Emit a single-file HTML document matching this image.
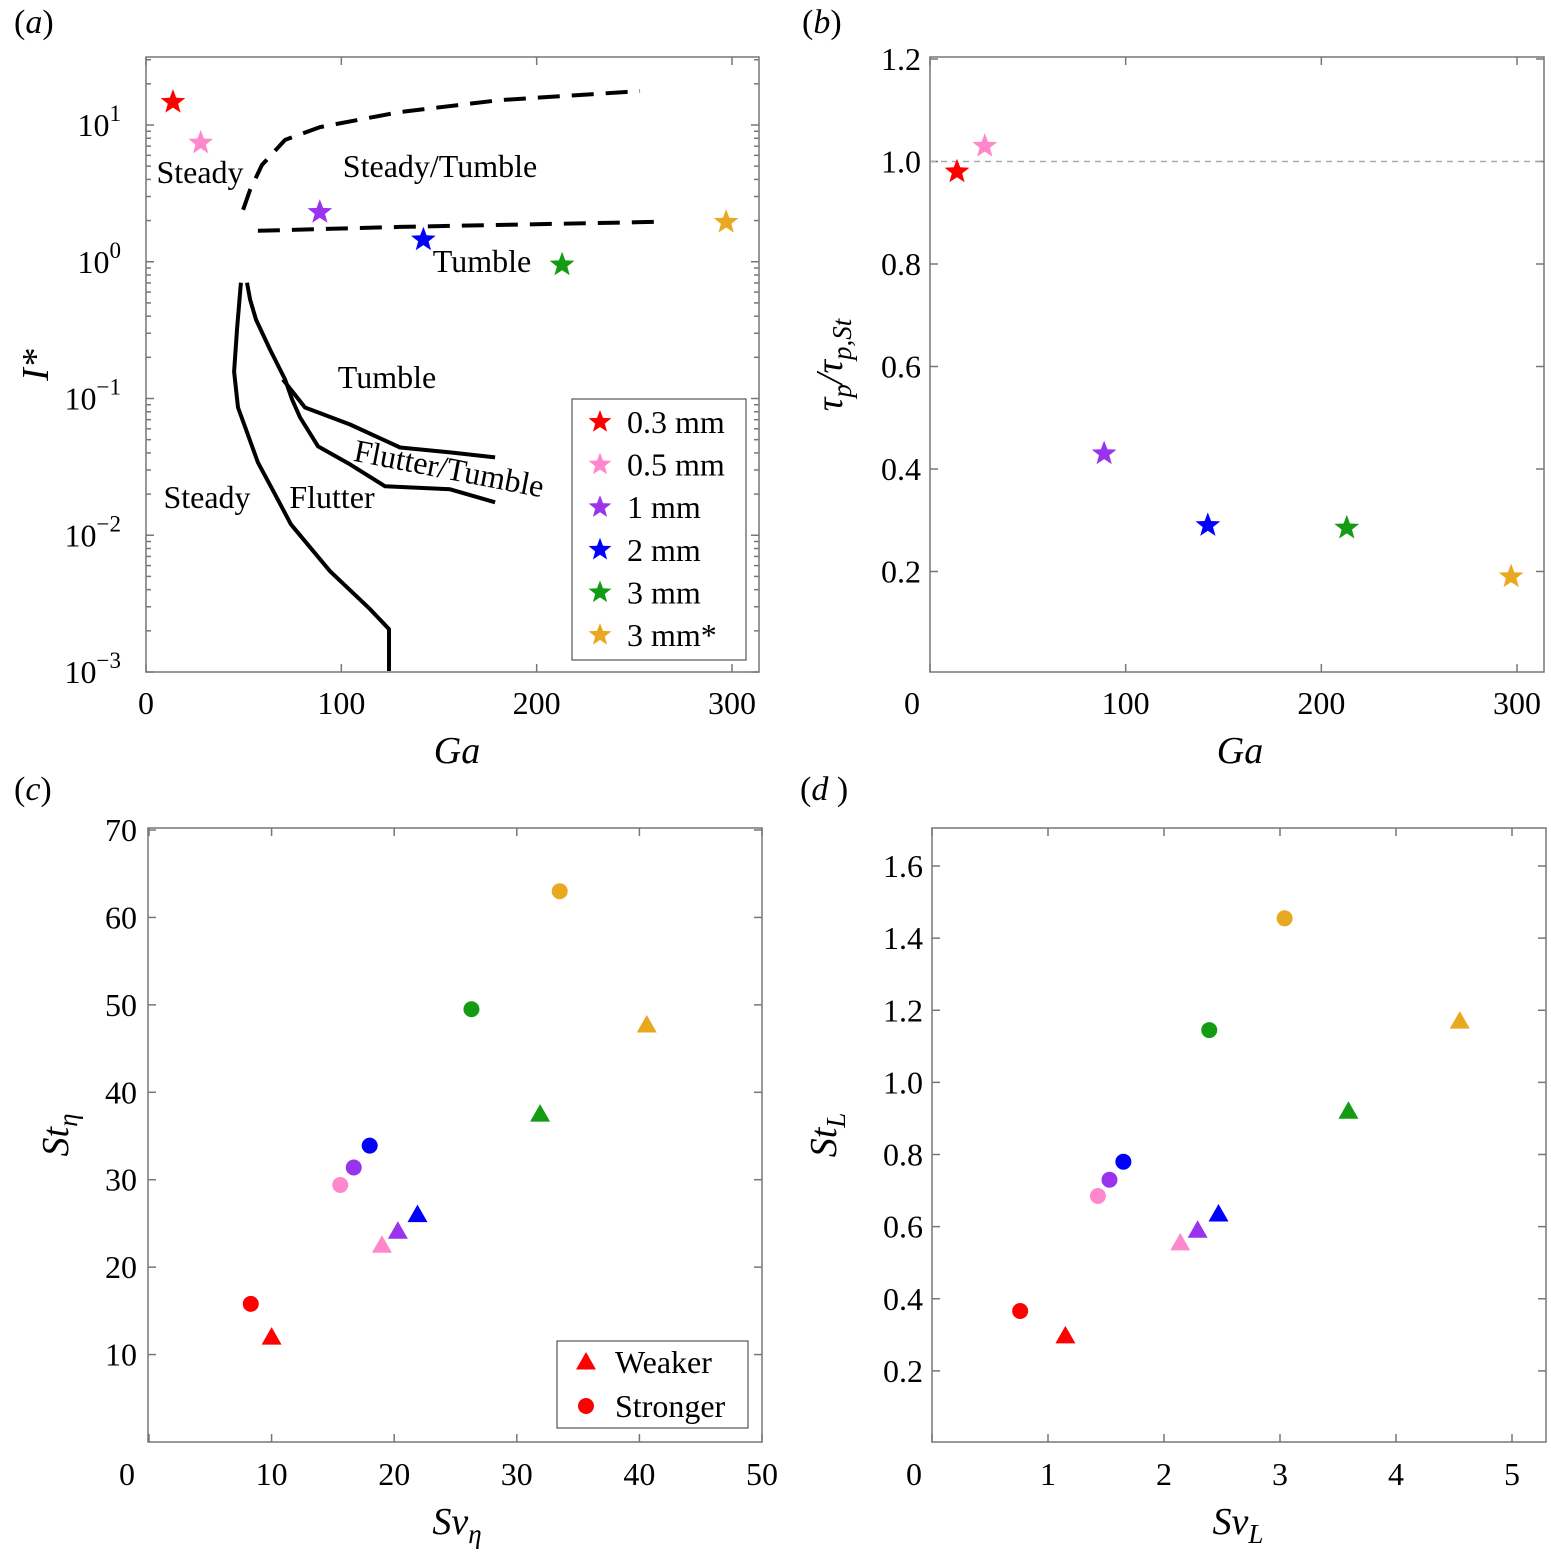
<!DOCTYPE html>
<html><head><meta charset="utf-8"><style>
body{margin:0;background:#fff}
svg{display:block}
text{font-family:"Liberation Serif",serif;fill:#000}
.tk{font-size:32px}
.ax{font-size:38px;font-style:italic}
</style></head><body>
<svg id="s" width="1551" height="1556" xmlns="http://www.w3.org/2000/svg">
<text x="14" y="33" class="ax" style="font-style:normal;font-size:34px">(<tspan font-style="italic">a</tspan>)</text>
<text x="802" y="33" class="ax" style="font-style:normal;font-size:34px">(<tspan font-style="italic">b</tspan>)</text>
<text x="14" y="800" class="ax" style="font-style:normal;font-size:34px">(<tspan font-style="italic">c</tspan>)</text>
<text x="800" y="800" class="ax" style="font-style:normal;font-size:34px">(<tspan font-style="italic">d</tspan> )</text>
</svg>
<script>
// ---- data ----
const colors=['#ff0000','#ff88cc','#9933ee','#0000ff','#139b13','#e8a820'];
const sizes=['0.3 mm','0.5 mm','1 mm','2 mm','3 mm','3 mm*'];
const gaVals=[13.8,28,89,142,213,297];
const iStar=[14.7,7.4,2.3,1.45,0.95,1.95];
const tauRatio=[0.98,1.03,0.43,0.29,0.285,0.19];
const svEtaWeak=[10.0,19.0,20.3,21.9,31.9,40.6];
const stEtaWeak=[12,22.5,24.1,26,37.5,47.7];
const svEtaStrong=[8.3,15.6,16.7,18.0,26.3,33.5];
const stEtaStrong=[15.8,29.4,31.4,33.9,49.5,63];
const svLWeak=[1.15,2.14,2.29,2.47,3.59,4.55];
const stLWeak=[0.297,0.555,0.59,0.635,0.92,1.17];
const svLStrong=[0.76,1.43,1.53,1.65,2.39,3.04];
const stLStrong=[0.366,0.685,0.73,0.78,1.145,1.455];
// regime boundaries (Ga, log10 I*)
const bndAx=[48.6,46.6,45.1,47.1,51.2,57.3,66.1,74.2,94.2,114.7,124.4,124.4];
const bndAy=[-0.153,-0.496,-0.803,-1.066,-1.226,-1.467,-1.701,-1.920,-2.263,-2.540,-2.686,-2.993];
const bndBx=[51.7,53.3,56.3,63.5,71.2,74.8,78.9,88.1,104.5,122.4,155.7,178.7];
const bndBy=[-0.153,-0.277,-0.423,-0.642,-0.861,-1.007,-1.139,-1.350,-1.482,-1.642,-1.664,-1.759];
const bndCx=[70.1,81.4,104.5,130.1,155.7,178.7];
const bndCy=[-0.861,-1.066,-1.190,-1.358,-1.394,-1.431];
const dashUx=[49.7,53.3,59.4,71.2,89.1,130.1,181.3,252.9];
const dashUy=[0.380,0.526,0.708,0.891,0.985,1.095,1.182,1.248];
const dashLx=[57.3,130,263.2];
const dashLy=[0.226,0.255,0.292];

const S=document.getElementById('s'),NS='http://www.w3.org/2000/svg';
function el(t,a,p){const e=document.createElementNS(NS,t);for(const k in a)e.setAttribute(k,a[k]);(p||S).appendChild(e);return e;}
function lin(d0,d1,r0,r1){return v=>r0+(v-d0)*(r1-r0)/(d1-d0);}
function star(cx,cy,r,c){let p=[];for(let i=0;i<10;i++){const rr=i%2?r*0.42:r,a=-Math.PI/2+i*Math.PI/5;p.push((cx+rr*Math.cos(a)).toFixed(1)+','+(cy+rr*Math.sin(a)).toFixed(1));}return el('polygon',{points:p.join(' '),fill:c});}
function tri(cx,cy,r,c){return el('polygon',{points:`${cx},${cy-r} ${cx+r*1.0},${cy+r*0.75} ${cx-r*1.0},${cy+r*0.75}`,fill:c});}
function frame(x0,y0,x1,y1,name){const r=el('rect',{x:x0,y:y0,width:x1-x0,height:y1-y0,fill:'none',stroke:'#777','stroke-width':1.5});}
function tick(x1,y1,x2,y2){el('line',{x1,y1,x2,y2,stroke:'#777','stroke-width':1.5});}
function txt(x,y,s,cls,anchor,name){const t=el('text',{x,y,class:cls,'text-anchor':anchor||'middle'});t.textContent=s;return t;}
function poly(xs,ys,X,Y,dash,name){const d=xs.map((v,i)=>(i?'L':'M')+X(v).toFixed(1)+','+Y(ys[i]).toFixed(1)).join('');const p=el('path',{d,fill:'none',stroke:'#000','stroke-width':4,'stroke-dasharray':dash||'none','stroke-linejoin':'round'});}

// ---- panel a ----
{const X=lin(0,300,146,732),Y=lin(1,-3,125,672);const L=146,R=759,T=57,B=672;
frame(L,T,R,B,'panel-a-frame');
[0,100,200,300].forEach(v=>{tick(X(v),B,X(v),B-8);tick(X(v),T,X(v),T+8);txt(X(v),714,String(v),'tk','middle','x-tick-a');});
for(let e=-3;e<=1;e++){const y=Y(e);tick(L,y,L+8,y);tick(R,y,R-8,y);
 const t=txt(121,y+11,'10','tk','end','y-tick-a');const sp=el('tspan',{dy:-15,'font-size':23},t);sp.textContent=String(e).replace('-','−');
 for(let m=2;m<10;m++){const ym=Y(e+Math.log10(m));if(ym>=T&&ym<=B){tick(L,ym,L+5,ym);tick(R,ym,R-5,ym);}}}
txt(457,763,'Ga','ax','middle','x-axis-title-a');
const yt=el('text',{x:0,y:0,class:'ax','text-anchor':'middle',transform:'translate(48,365) rotate(-90)'});yt.textContent='I*';
poly(bndAx,bndAy,X,Y,null,'boundary-steady-flutter');
poly(bndBx,bndBy,X,Y,null,'boundary-flutter-tumble-upper');
poly(bndCx,bndCy,X,Y,null,'boundary-flutter-tumble-lower');
poly(dashUx,dashUy,X,Y,'22,12','boundary-dashed-upper');
poly(dashLx,dashLy,X,Y,'22,12','boundary-dashed-lower');
[['Steady',200,183],['Steady/Tumble',440,177],['Tumble',482,272],['Tumble',387,388],['Steady',207,508],['Flutter',332,508]].forEach(a=>txt(a[1],a[2],a[0],'tk','middle','regime-label'));
const ft=el('text',{x:0,y:0,class:'tk','text-anchor':'middle',transform:'translate(447,479) rotate(11)'});ft.textContent='Flutter/Tumble';
gaVals.forEach((g,i)=>{const s=star(X(g),Y(Math.log10(iStar[i])),13,colors[i]);});
const lg=el('rect',{x:572,y:399,width:174,height:261,fill:'#fff',stroke:'#555','stroke-width':1.2});
sizes.forEach((s,i)=>{const y=422+i*42.6;star(600,y,12,colors[i]);txt(627,y+11,s,'tk','start','legend-entry');});
}
// ---- panel b ----
{const X=lin(0,300,930,1517),Y=lin(0,1.2,674,59);const L=930,R=1544,T=57,B=672;
frame(L,T,R,B,'panel-b-frame');
[0,100,200,300].forEach(v=>{tick(X(v),B,X(v),B-8);tick(X(v),T,X(v),T+8);txt(v?X(v):912,714,String(v),'tk','middle','x-tick-b');});
[0.2,0.4,0.6,0.8,1.0,1.2].forEach(v=>{tick(L,Y(v),L+8,Y(v));tick(R,Y(v),R-8,Y(v));txt(921,Y(v)+11,v.toFixed(1),'tk','end','y-tick-b');});
el('line',{x1:L,x2:R,y1:Y(1),y2:Y(1),stroke:'#aaa','stroke-width':1.5,'stroke-dasharray':'6,5'});
txt(1240,763,'Ga','ax','middle','x-axis-title-b');
const yt=el('text',{x:0,y:0,class:'ax','text-anchor':'middle',transform:'translate(842,365) rotate(-90)'});
yt.innerHTML='τ<tspan font-size="27" dy="9">p</tspan><tspan dy="-9">/τ</tspan><tspan font-size="27" dy="9">p,St</tspan>';
gaVals.forEach((g,i)=>{const s=star(X(g),Y(tauRatio[i]),13,colors[i]);});
}
// ---- panel c ----
{const X=lin(0,50,149,762),Y=lin(0,70,1442,830);const L=148,R=762,T=828,B=1442;
frame(L,T,R,B,'panel-c-frame');
[0,10,20,30,40,50].forEach(v=>{tick(X(v),B,X(v),B-8);tick(X(v),T,X(v),T+8);txt(v?X(v):127,1485,String(v),'tk','middle','x-tick-c');});
[10,20,30,40,50,60,70].forEach(v=>{tick(L,Y(v),L+8,Y(v));tick(R,Y(v),R-8,Y(v));txt(137,Y(v)+11,String(v),'tk','end','y-tick-c');});
const xt=txt(457,1534,'Sv','ax','middle','x-axis-title-c');const s1=el('tspan',{'font-size':27,dy:9},xt);s1.textContent='η';
const yt=el('text',{x:0,y:0,class:'ax','text-anchor':'middle',transform:'translate(68,1135) rotate(-90)'});yt.innerHTML='St<tspan font-size="27" dy="9">η</tspan>';
svEtaStrong.forEach((v,i)=>{const c=el('circle',{cx:X(v),cy:Y(stEtaStrong[i]),r:8,fill:colors[i]});});
svEtaWeak.forEach((v,i)=>{const t=tri(X(v),Y(stEtaWeak[i]),10,colors[i]);});
const lg=el('rect',{x:557,y:1341,width:191,height:87,fill:'#fff',stroke:'#555','stroke-width':1.2});
tri(586,1362,10,'#ff0000');txt(615,1373,'Weaker','tk','start','legend-entry-weaker');
el('circle',{cx:586,cy:1406,r:8,fill:'#ff0000'});txt(615,1417,'Stronger','tk','start','legend-entry-stronger');
}
// ---- panel d ----
{const X=lin(0,5,932,1512),Y=lin(0,1.6,1443,866);const L=932,R=1546,T=828,B=1442;
frame(L,T,R,B,'panel-d-frame');
[0,1,2,3,4,5].forEach(v=>{tick(X(v),B,X(v),B-8);tick(X(v),T,X(v),T+8);txt(v?X(v):914,1485,String(v),'tk','middle','x-tick-d');});
[0.2,0.4,0.6,0.8,1.0,1.2,1.4,1.6].forEach(v=>{tick(L,Y(v),L+8,Y(v));tick(R,Y(v),R-8,Y(v));txt(923,Y(v)+11,v.toFixed(1),'tk','end','y-tick-d');});
const xt=txt(1238,1534,'Sv','ax','middle','x-axis-title-d');const s1=el('tspan',{'font-size':27,dy:9},xt);s1.textContent='L';
const yt=el('text',{x:0,y:0,class:'ax','text-anchor':'middle',transform:'translate(836,1135) rotate(-90)'});yt.innerHTML='St<tspan font-size="27" dy="9">L</tspan>';
svLStrong.forEach((v,i)=>{const c=el('circle',{cx:X(v),cy:Y(stLStrong[i]),r:8,fill:colors[i]});});
svLWeak.forEach((v,i)=>{const t=tri(X(v),Y(stLWeak[i]),10,colors[i]);});
}
</script>
</body></html>
